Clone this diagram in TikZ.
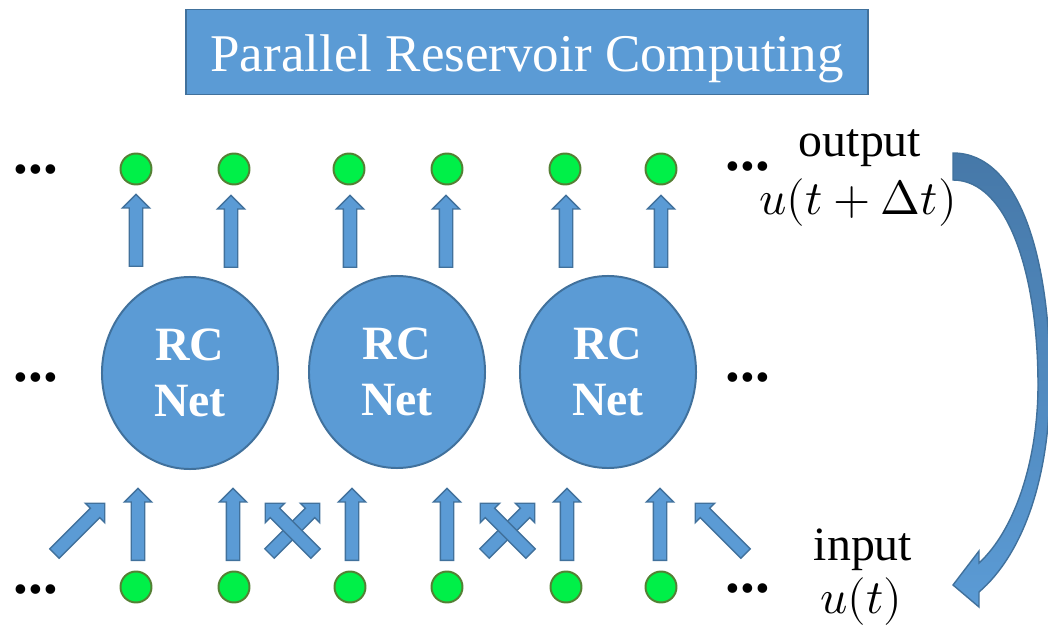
\documentclass[tikz,border=0pt]{standalone}
\usepackage{fontspec}
\usepackage{unicode-math}
\setmainfont{Liberation Serif}
\setmathfont{Latin Modern Math}
\usetikzlibrary{shapes.geometric,shapes.arrows}
\definecolor{rcblue}{RGB}{91,155,213}
\definecolor{rcedge}{RGB}{65,113,156}
\definecolor{arcdark}{RGB}{70,120,168}
\definecolor{unitgreen}{RGB}{0,240,72}
\definecolor{unitedge}{RGB}{84,128,52}
\begin{document}
\begin{tikzpicture}[x=0.025cm,y=-0.025cm,
  titlebox/.style={rectangle,draw=rcedge,fill=rcblue,line width=1.4pt,minimum width=17.05cm,minimum height=2.125cm,text height=0.975cm,text depth=0pt,text=white,font=\fontsize{37.7}{44}\selectfont},
  rcnet/.style={ellipse,draw=rcedge,fill=rcblue,line width=1.4pt,minimum width=4.4cm,minimum height=4.8cm,inner sep=0,align=center,text=white,font=\fontsize{34}{39.8}\selectfont\bfseries},
  unit/.style={circle,draw=unitedge,fill=unitgreen,line width=1.4pt,minimum size=0.775cm,inner sep=0},
  blockarrow/.style={single arrow,draw=rcedge,fill=rcblue,line width=1pt,minimum height=1.8cm,inner xsep=0,inner ysep=0.15cm,single arrow head extend=0.175cm,single arrow tip angle=90,anchor=tail},
  lbl/.style={inner sep=0,anchor=base,font=\fontsize{34}{40}\selectfont},
  dotsep/.style={inner sep=0,anchor=base,font=\fontsize{42}{48}\selectfont\bfseries}]
\useasboundingbox (0,0) rectangle (1048,630);
\node[titlebox](title) at (527,52) {Parallel Reservoir Computing};
% reservoirs
\node[rcnet](rc1) at (190,373) {RC\\Net};
\node[rcnet](rc2) at (397,372) {RC\\Net};
\node[rcnet](rc3) at (608,372) {RC\\Net};
% output units
\node[unit](o1) at (136,169) {};
\node[unit](o2) at (234,169) {};
\node[unit](o3) at (349,169) {};
\node[unit](o4) at (447,169) {};
\node[unit](o5) at (565,169) {};
\node[unit](o6) at (661,169) {};
% input units
\node[unit](i1) at (136,587) {};
\node[unit](i2) at (234,587) {};
\node[unit](i3) at (350,587) {};
\node[unit](i4) at (447,587) {};
\node[unit](i5) at (566,587) {};
\node[unit](i6) at (661,587) {};
% reservoir -> output
\node[blockarrow,rotate=90](ao1) at (136,267) {};
\node[blockarrow,rotate=90](ao2) at (231,268) {};
\node[blockarrow,rotate=90](ao3) at (350,268) {};
\node[blockarrow,rotate=90](ao4) at (446,268) {};
\node[blockarrow,rotate=90](ao5) at (566,268) {};
\node[blockarrow,rotate=90](ao6) at (661,268) {};
% input -> reservoir
\node[blockarrow,rotate=90](ai1) at (138,561) {};
\node[blockarrow,rotate=90](ai2) at (233,561) {};
\node[blockarrow,rotate=90](ai3) at (352,561) {};
\node[blockarrow,rotate=90](ai4) at (447,561) {};
\node[blockarrow,rotate=90](ai5) at (567,561) {};
\node[blockarrow,rotate=90](ai6) at (660,561) {};
% overlap between neighbours
\node[blockarrow,rotate=45,minimum height=1.775cm](al0) at (54,554) {};
\node[blockarrow,rotate=45,minimum height=1.775cm](ar2) at (269,554) {};
\node[blockarrow,rotate=135,minimum height=1.775cm](al3) at (316,554) {};
\node[blockarrow,rotate=45,minimum height=1.775cm](ar4) at (484,554) {};
\node[blockarrow,rotate=135,minimum height=1.775cm](al5) at (531,554) {};
\node[blockarrow,rotate=135,minimum height=1.775cm](ar7) at (746,554) {};
% more of the same on both sides
\node[dotsep](d1) at (36,174) {...};
\node[dotsep](d2) at (36,381) {...};
\node[dotsep](d3) at (36,593) {...};
\node[dotsep](d4) at (748,171) {...};
\node[dotsep](d5) at (748,381) {...};
\node[dotsep](d6) at (748,592) {...};
% feedback
\node[lbl](outtxt) at (860,157) {output};
\node[lbl](outvar) at (858,215) {$u(t+\Delta t)$};
\node[lbl](intxt) at (863,560) {input};
\node[lbl](invar) at (861,613) {$u(t)$};
\path[draw=rcedge,line width=1pt,top color=arcdark,bottom color=rcblue]
  (953,153) .. controls (1020,153) and (1050,260) .. (1050,380)
  .. controls (1050,480) and (1022,555) .. (979,592)
  -- (979,607) -- (953,585) -- (979,551) -- (979,563)
  .. controls (1015,530) and (1038,460) .. (1038,385)
  .. controls (1038,275) and (1008,180) .. (953,180) -- cycle;
\end{tikzpicture}
\end{document}
